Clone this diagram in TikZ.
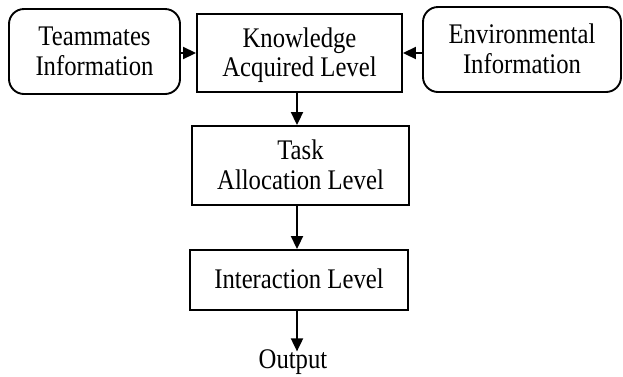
\documentclass[tikz,border=0pt]{standalone}
\usepackage{fontspec}
\setmainfont{Liberation Serif}
\usetikzlibrary{arrows.meta}
\newcommand{\vstretch}[1]{\raisebox{-3pt}[\height][\depth]{\scalebox{1}[1.15]{\begin{tabular}{@{}c@{}}#1\end{tabular}}}}
\begin{document}
\begin{tikzpicture}[x=1pt,y=1pt,
  box/.style={draw, line width=1.9pt, inner sep=0pt, align=center,
    font=\fontsize{24.7}{26}\selectfont},
  rbox/.style={box, rounded corners=15pt},
  conn/.style={line width=1.9pt, -{Triangle[length=13pt,width=12pt]}}]
\useasboundingbox (0,0) rectangle (623,-376);
\node[rbox, minimum width=171pt, minimum height=85pt] (tm) at (94.5,-51.5) {\vstretch{Teammates\\Information}};
\node[box, minimum width=205pt, minimum height=78pt] (ka) at (299.5,-53) {\vstretch{Knowledge\\Acquired Level}};
\node[rbox, minimum width=198pt, minimum height=85pt] (env) at (522,-49.5) {\vstretch{Environmental\\Information}};
\node[box, minimum width=217pt, minimum height=79pt] (task) at (300.5,-165.5) {\vstretch{Task\\Allocation Level}};
\node[box, minimum width=218pt, minimum height=60pt] (inter) at (299,-280) {\vstretch{Interaction Level}};
\node[inner sep=0pt, font=\fontsize{24.7}{26}\selectfont] (out) at (293,-362) {\scalebox{1}[1.15]{Output}};
\coordinate (kab) at (297,-92);
\draw[conn] (tm.east |- ka.west) -- (ka.west);
\draw[conn] (env.west |- ka.east) -- (ka.east);
\draw[conn] (kab) -- (kab |- task.north);
\draw[conn] (task.south -| kab) -- (kab |- inter.north);
\draw[conn] (inter.south -| kab) -- ([yshift=-2pt]kab |- out.north);
\end{tikzpicture}
\end{document}
